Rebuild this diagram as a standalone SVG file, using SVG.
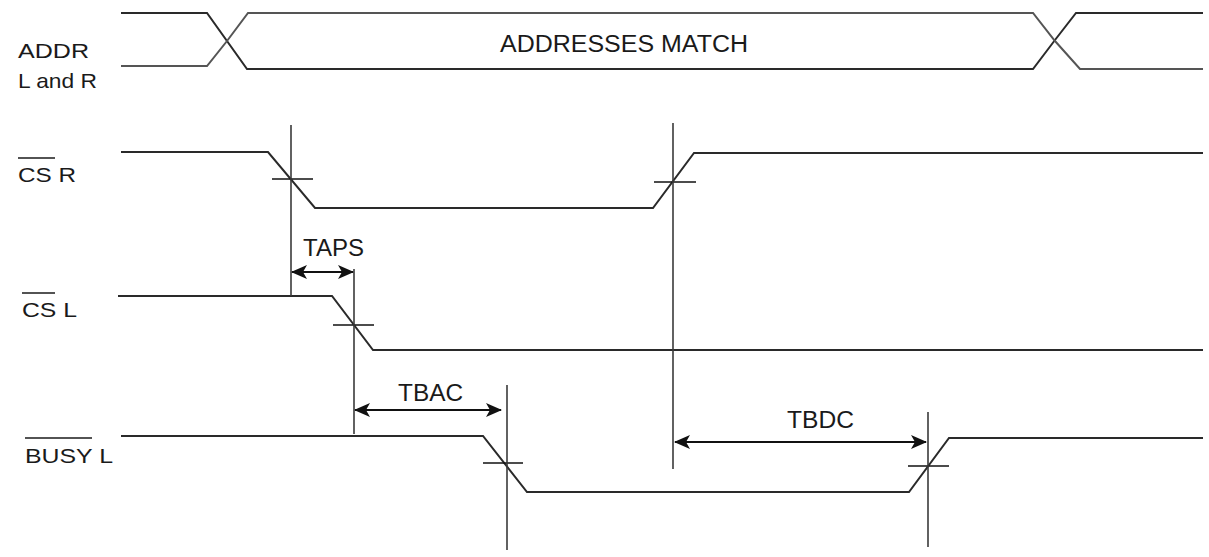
<svg xmlns="http://www.w3.org/2000/svg" width="1209" height="557" viewBox="0 0 1209 557">
<style>
.sig{fill:none;stroke:#2a2a2a;stroke-width:2;stroke-linejoin:miter}
.ref{fill:none;stroke:#3a3a3a;stroke-width:1.6}
.tick{fill:none;stroke:#111;stroke-width:1.6}
.dim{fill:none;stroke:#111;stroke-width:2}
text{font-family:"Liberation Sans",Arial,sans-serif;fill:#1a1a1a}
.lbl{font-size:21px}
.big{font-size:23.5px}
.ov{stroke:#1a1a1a;stroke-width:1.6}
</style>
<defs>
<marker id="ah" viewBox="0 0 16 14" refX="15" refY="7" markerWidth="16" markerHeight="14" markerUnits="userSpaceOnUse" orient="auto-start-reverse">
<path d="M0,0 L16,7 L0,14 L4,7 Z" fill="#111"/>
</marker>
</defs>
<rect width="1209" height="557" fill="#fff"/>

<g id="addr">
<text class="lbl" x="18" y="58" textLength="71" lengthAdjust="spacingAndGlyphs">ADDR</text>
<text class="lbl" x="18" y="88" textLength="79" lengthAdjust="spacingAndGlyphs">L and R</text>
<polyline class="sig" points="121,13 207,13 247,69 1033,69 1055,40 1076,13 1203,13"/>
<polyline class="sig" style="stroke:#555" points="121,66 207,66 227,41 248,13 1033,13 1055,41 1080,69 1203,69"/>
<text class="big" x="500" y="52" textLength="248" lengthAdjust="spacingAndGlyphs">ADDRESSES MATCH</text>
</g>

<g id="csr">
<text class="lbl" x="18" y="182" textLength="58" lengthAdjust="spacingAndGlyphs">CS R</text>
<line class="ov" x1="18" y1="158" x2="55" y2="158"/>
<polyline class="sig" points="121,152 268,152 315,208 653,208 694,153 1203,153"/>
<line class="tick" x1="272" y1="179" x2="313" y2="179"/>
<line class="tick" x1="654" y1="182" x2="696" y2="182"/>
</g>

<g id="csl">
<text class="lbl" x="22" y="317" textLength="55" lengthAdjust="spacingAndGlyphs">CS L</text>
<line class="ov" x1="22" y1="293" x2="55" y2="293"/>
<polyline class="sig" points="118,296 332,296 373,350 1203,350"/>
<line class="tick" x1="333" y1="325" x2="374" y2="325"/>
</g>

<g id="busyl">
<text class="lbl" x="25" y="463" textLength="88" lengthAdjust="spacingAndGlyphs">BUSY L</text>
<line class="ov" x1="25" y1="438" x2="92" y2="438"/>
<polyline class="sig" points="121,436 483,436 527,492 909,492 949,438 1203,438"/>
<line class="tick" x1="483" y1="463" x2="523" y2="463"/>
<line class="tick" x1="908" y1="466" x2="949" y2="466"/>
</g>

<g id="connectors">
<line class="ref" x1="291" y1="125" x2="291" y2="296"/>
<line class="ref" x1="354" y1="269" x2="354" y2="434"/>
<line class="ref" x1="673" y1="123" x2="673" y2="469"/>
<line class="ref" x1="507" y1="385" x2="507" y2="550"/>
<line class="ref" x1="928" y1="412" x2="928" y2="547"/>
<line class="dim" x1="292" y1="272" x2="353" y2="272" marker-start="url(#ah)" marker-end="url(#ah)"/>
<line class="dim" x1="355" y1="410" x2="501" y2="410" marker-start="url(#ah)" marker-end="url(#ah)"/>
<line class="dim" x1="675" y1="442" x2="926" y2="442" marker-start="url(#ah)" marker-end="url(#ah)"/>
</g>

<g id="dimlabels">
<text class="big" x="303" y="256" textLength="61" lengthAdjust="spacingAndGlyphs">TAPS</text>
<text class="big" x="398" y="401" textLength="65" lengthAdjust="spacingAndGlyphs">TBAC</text>
<text class="big" x="787" y="428" textLength="67" lengthAdjust="spacingAndGlyphs">TBDC</text>
</g>
</svg>
